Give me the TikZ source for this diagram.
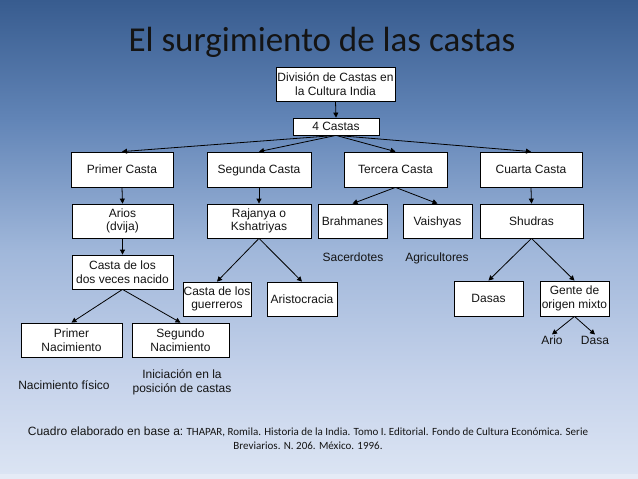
\documentclass[tikz,border=0pt]{standalone}
\usepackage{fontspec}
\setmainfont{Liberation Sans}
\newfontfamily\calibri{Carlito}
\usetikzlibrary{arrows.meta}
\definecolor{bgA}{RGB}{56,92,143}
\definecolor{bgB}{RGB}{98,133,183}
\definecolor{bgC}{RGB}{160,183,218}
\definecolor{bgD}{RGB}{198,211,235}
\definecolor{bgE}{RGB}{219,228,243}
\definecolor{bgF}{RGB}{229,235,246}
\definecolor{ink}{RGB}{20,20,20}
\tikzset{
  box/.style={draw=black, fill=white, line width=0.8pt, inner sep=0pt, align=center,
    text=ink, font=\fontsize{12}{13.5}\selectfont},
  oneline/.style={text height=8.6pt, text depth=0pt},
  lab/.style={inner sep=1pt, align=center, text=ink, font=\fontsize{12}{14.5}\selectfont},
  arr/.style={-{Triangle[length=5pt,width=5pt]}, line width=0.8pt, draw=black}
}
\begin{document}
\begin{tikzpicture}[x=1pt,y=-1pt]
\useasboundingbox (0,0) rectangle (638,479);
% background
\shade[top color=bgA, bottom color=bgB] (0,0) rectangle (638,121);
\shade[top color=bgB, bottom color=bgC] (0,120) rectangle (638,251);
\shade[top color=bgC, bottom color=bgD] (0,250) rectangle (638,381);
\shade[top color=bgD, bottom color=bgE] (0,380) rectangle (638,474);
\fill[bgF] (0,474) rectangle (638,479);
% title
\node[inner sep=0pt, anchor=base, text=ink, font=\calibri\fontsize{35}{40}\selectfont] (title) at (322,52) {El surgimiento de las castas};
% boxes
\node[box, minimum width=119pt, minimum height=34pt] (div) at (335.5,84) {División de Castas en\\la Cultura India};
\node[box, oneline, minimum width=86pt, minimum height=17pt] (four) at (336,126.5) {4 Castas};
\node[box, oneline, minimum width=102pt, minimum height=35pt] (c1) at (122,169.5) {Primer Casta};
\node[box, oneline, minimum width=104pt, minimum height=35pt] (c2) at (259,169.5) {Segunda Casta};
\node[box, oneline, minimum width=103pt, minimum height=35pt] (c3) at (395.5,169.5) {Tercera Casta};
\node[box, oneline, minimum width=102pt, minimum height=35pt] (c4) at (531,169.5) {Cuarta Casta};
\node[box, minimum width=101pt, minimum height=34pt] (arios) at (122.5,221) {Arios\\(dvija)};
\node[box, minimum width=104pt, minimum height=34pt] (raj) at (259,221) {Rajanya o\\Kshatriyas};
\node[box, oneline, minimum width=69pt, minimum height=34pt] (brah) at (352.5,221) {Brahmanes};
\node[box, oneline, minimum width=69pt, minimum height=34pt] (vai) at (437.5,221) {Vaishyas};
\node[box, oneline, minimum width=103pt, minimum height=34pt] (shu) at (531.5,221) {Shudras};
\node[box, minimum width=101pt, minimum height=34pt] (dos) at (122.5,272) {Casta de los\\dos veces nacido};
\node[box, minimum width=101pt, minimum height=34pt] (pn) at (71.5,340) {Primer\\Nacimiento};
\node[box, minimum width=97pt, minimum height=34pt] (sn) at (180.5,340) {Segundo\\Nacimiento};
\node[box, minimum width=68pt, minimum height=34pt] (guer) at (217,299) {Casta de los\\guerreros};
\node[box, oneline, minimum width=70pt, minimum height=34pt] (ari) at (302,299) {Aristocracia};
\node[box, oneline, minimum width=69pt, minimum height=35pt] (dasas) at (488.5,298.5) {Dasas};
\node[box, minimum width=69pt, minimum height=35pt] (gente) at (574.5,298.5) {Gente de\\origen mixto};
% plain labels
\node[lab, oneline] (sac) at (353,257) {Sacerdotes};
\node[lab, oneline] (agr) at (437,257) {Agricultores};
\node[lab, oneline] (ario) at (552,340) {Ario};
\node[lab, oneline] (dasa) at (595,340) {Dasa};
\node[lab, oneline] (fis) at (64,385) {Nacimiento físico};
\node[lab] (ini) at (182,382.5) {Iniciación en la\\posición de castas};
% source
\node[inner sep=0pt, align=center, text=ink, font=\calibri\fontsize{11}{14}\selectfont] (src) at (308,438)
  {{\rmfamily\fontsize{12}{14}\selectfont Cuadro elaborado en base a:} THAPAR, Romila. Historia de la India. Tomo I. Editorial. Fondo de Cultura Económica. Serie\\Breviarios. N. 206. México. 1996.};
% connectors
\draw[arr] (div.south) -- (four.north);
\draw[arr] (four.south) -- (c1.north);
\draw[arr] (four.south) -- (c2.north);
\draw[arr] (four.south) -- (c3.north);
\draw[arr] (four.south) -- (c4.north);
\draw[arr] (c1.south) -- (arios.north);
\draw[arr] (c2.south) -- (raj.north);
\draw[arr] (c3.south) -- (brah.north);
\draw[arr] (c3.south) -- (vai.north);
\draw[arr] (c4.south) -- (shu.north);
\draw[arr] (arios.south) -- (dos.north);
\draw[arr] (dos.south) -- (pn.north);
\draw[arr] (dos.south) -- (sn.north);
\draw[arr] (raj.south) -- (guer.north);
\draw[arr] (raj.south) -- (ari.north);
\draw[arr] (shu.south) -- (dasas.north);
\draw[arr] (shu.south) -- (gente.north);
\draw[arr] (gente.south) -- (ario.north);
\draw[arr] (gente.south) -- (dasa.north);
\end{tikzpicture}
\end{document}
